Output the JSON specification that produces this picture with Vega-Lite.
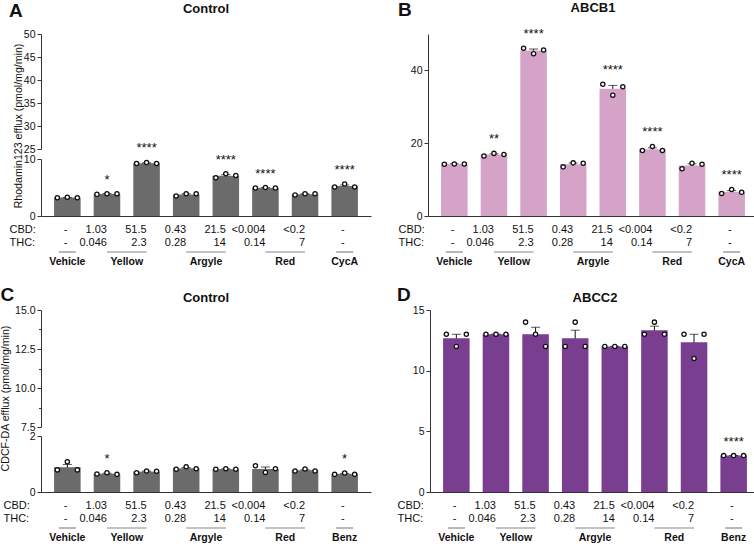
{
"$schema": "https://vega.github.io/schema/vega-lite/v6.json",
"padding": {"left": 0, "top": 1, "right": 0, "bottom": 0},
"config": {
  "font": "Liberation Sans",
  "view": {"stroke": null},
  "axis": {"domainColor": "#333", "tickColor": "#333", "labelColor": "#111", "labelFontSize": 10.5, "tickSize": 4, "labelPadding": 2, "titleFontSize": 10.6, "titleFontWeight": "normal", "titleColor": "#111", "titlePadding": 0, "grid": false, "domainWidth": 1, "tickWidth": 1, "labelOverlap": false},
  "title": {"fontSize": 13, "fontWeight": "bold", "color": "#111", "offset": 13, "anchor": "middle"}
},
"datasets": {
  "A": [
    {"bar":"Vehicle:-:-","rep":1,"v":3.2},{"bar":"Vehicle:-:-","rep":2,"v":3.3},{"bar":"Vehicle:-:-","rep":3,"v":3.2},
    {"bar":"Yellow:1.03:0.046","rep":1,"v":3.8},{"bar":"Yellow:1.03:0.046","rep":2,"v":3.9},{"bar":"Yellow:1.03:0.046","rep":3,"v":3.9},
    {"bar":"Yellow:51.5:2.3","rep":1,"v":9.2},{"bar":"Yellow:51.5:2.3","rep":2,"v":9.4},{"bar":"Yellow:51.5:2.3","rep":3,"v":9.2},
    {"bar":"Argyle:0.43:0.28","rep":1,"v":3.5},{"bar":"Argyle:0.43:0.28","rep":2,"v":3.9},{"bar":"Argyle:0.43:0.28","rep":3,"v":3.9},
    {"bar":"Argyle:21.5:14","rep":1,"v":6.7},{"bar":"Argyle:21.5:14","rep":2,"v":7.4},{"bar":"Argyle:21.5:14","rep":3,"v":7.1},
    {"bar":"Red:<0.004:0.14","rep":1,"v":4.9},{"bar":"Red:<0.004:0.14","rep":2,"v":5.0},{"bar":"Red:<0.004:0.14","rep":3,"v":4.9},
    {"bar":"Red:<0.2:7","rep":1,"v":3.7},{"bar":"Red:<0.2:7","rep":2,"v":3.9},{"bar":"Red:<0.2:7","rep":3,"v":3.9},
    {"bar":"CycA:-:-","rep":1,"v":5.1},{"bar":"CycA:-:-","rep":2,"v":5.6},{"bar":"CycA:-:-","rep":3,"v":5.1}
  ],
  "B": [
    {"bar":"Vehicle:-:-","rep":1,"v":14.2},{"bar":"Vehicle:-:-","rep":2,"v":14.3},{"bar":"Vehicle:-:-","rep":3,"v":14.3},
    {"bar":"Yellow:1.03:0.046","rep":1,"v":16.5},{"bar":"Yellow:1.03:0.046","rep":2,"v":17.2},{"bar":"Yellow:1.03:0.046","rep":3,"v":16.9},
    {"bar":"Yellow:51.5:2.3","rep":1,"v":46.1},{"bar":"Yellow:51.5:2.3","rep":2,"v":44.6},{"bar":"Yellow:51.5:2.3","rep":3,"v":45.6},
    {"bar":"Argyle:0.43:0.28","rep":1,"v":13.5},{"bar":"Argyle:0.43:0.28","rep":2,"v":14.6},{"bar":"Argyle:0.43:0.28","rep":3,"v":14.5},
    {"bar":"Argyle:21.5:14","rep":1,"v":36.2},{"bar":"Argyle:21.5:14","rep":2,"v":33.2},{"bar":"Argyle:21.5:14","rep":3,"v":35.5},
    {"bar":"Red:<0.004:0.14","rep":1,"v":18.0},{"bar":"Red:<0.004:0.14","rep":2,"v":19.1},{"bar":"Red:<0.004:0.14","rep":3,"v":18.0},
    {"bar":"Red:<0.2:7","rep":1,"v":13.0},{"bar":"Red:<0.2:7","rep":2,"v":14.5},{"bar":"Red:<0.2:7","rep":3,"v":14.2},
    {"bar":"CycA:-:-","rep":1,"v":6.2},{"bar":"CycA:-:-","rep":2,"v":7.3},{"bar":"CycA:-:-","rep":3,"v":6.5}
  ],
  "C": [
    {"bar":"Vehicle:-:-","rep":1,"v":0.79},{"bar":"Vehicle:-:-","rep":2,"v":1.08},{"bar":"Vehicle:-:-","rep":3,"v":0.79},
    {"bar":"Yellow:1.03:0.046","rep":1,"v":0.64},{"bar":"Yellow:1.03:0.046","rep":2,"v":0.69},{"bar":"Yellow:1.03:0.046","rep":3,"v":0.63},
    {"bar":"Yellow:51.5:2.3","rep":1,"v":0.69},{"bar":"Yellow:51.5:2.3","rep":2,"v":0.75},{"bar":"Yellow:51.5:2.3","rep":3,"v":0.74},
    {"bar":"Argyle:0.43:0.28","rep":1,"v":0.81},{"bar":"Argyle:0.43:0.28","rep":2,"v":0.90},{"bar":"Argyle:0.43:0.28","rep":3,"v":0.83},
    {"bar":"Argyle:21.5:14","rep":1,"v":0.81},{"bar":"Argyle:21.5:14","rep":2,"v":0.83},{"bar":"Argyle:21.5:14","rep":3,"v":0.81},
    {"bar":"Red:<0.004:0.14","rep":1,"v":0.94},{"bar":"Red:<0.004:0.14","rep":2,"v":0.70},{"bar":"Red:<0.004:0.14","rep":3,"v":0.83},
    {"bar":"Red:<0.2:7","rep":1,"v":0.75},{"bar":"Red:<0.2:7","rep":2,"v":0.82},{"bar":"Red:<0.2:7","rep":3,"v":0.75},
    {"bar":"Benz:-:-","rep":1,"v":0.63},{"bar":"Benz:-:-","rep":2,"v":0.68},{"bar":"Benz:-:-","rep":3,"v":0.63}
  ],
  "D": [
    {"bar":"Vehicle:-:-","rep":1,"v":13},{"bar":"Vehicle:-:-","rep":2,"v":12},{"bar":"Vehicle:-:-","rep":3,"v":13},
    {"bar":"Yellow:1.03:0.046","rep":1,"v":13},{"bar":"Yellow:1.03:0.046","rep":2,"v":13},{"bar":"Yellow:1.03:0.046","rep":3,"v":13},
    {"bar":"Yellow:51.5:2.3","rep":1,"v":14},{"bar":"Yellow:51.5:2.3","rep":2,"v":13},{"bar":"Yellow:51.5:2.3","rep":3,"v":12},
    {"bar":"Argyle:0.43:0.28","rep":1,"v":12},{"bar":"Argyle:0.43:0.28","rep":2,"v":14},{"bar":"Argyle:0.43:0.28","rep":3,"v":12},
    {"bar":"Argyle:21.5:14","rep":1,"v":12},{"bar":"Argyle:21.5:14","rep":2,"v":12},{"bar":"Argyle:21.5:14","rep":3,"v":12},
    {"bar":"Red:<0.004:0.14","rep":1,"v":13},{"bar":"Red:<0.004:0.14","rep":2,"v":14},{"bar":"Red:<0.004:0.14","rep":3,"v":13},
    {"bar":"Red:<0.2:7","rep":1,"v":13},{"bar":"Red:<0.2:7","rep":2,"v":11},{"bar":"Red:<0.2:7","rep":3,"v":13},
    {"bar":"Benz:-:-","rep":1,"v":3},{"bar":"Benz:-:-","rep":2,"v":3},{"bar":"Benz:-:-","rep":3,"v":3}
  ],
  "sigA": [{"bar":"Yellow:1.03:0.046","sig":"*"},{"bar":"Yellow:51.5:2.3","sig":"****"},{"bar":"Argyle:21.5:14","sig":"****"},{"bar":"Red:<0.004:0.14","sig":"****"},{"bar":"CycA:-:-","sig":"****"}],
  "sigB": [{"bar":"Yellow:1.03:0.046","sig":"**"},{"bar":"Yellow:51.5:2.3","sig":"****"},{"bar":"Argyle:21.5:14","sig":"****"},{"bar":"Red:<0.004:0.14","sig":"****"},{"bar":"CycA:-:-","sig":"****"}],
  "sigC": [{"bar":"Yellow:1.03:0.046","sig":"*"},{"bar":"Benz:-:-","sig":"*"}],
  "sigD": [{"bar":"Benz:-:-","sig":"****"}],
  "grpA": [{"g":"Vehicle","first":"Vehicle:-:-","last":"Vehicle:-:-","n":1},{"g":"Yellow","first":"Yellow:1.03:0.046","last":"Yellow:51.5:2.3","n":2},{"g":"Argyle","first":"Argyle:0.43:0.28","last":"Argyle:21.5:14","n":2},{"g":"Red","first":"Red:<0.004:0.14","last":"Red:<0.2:7","n":2},{"g":"CycA","first":"CycA:-:-","last":"CycA:-:-","n":1}],
  "grpC": [{"g":"Vehicle","first":"Vehicle:-:-","last":"Vehicle:-:-","n":1},{"g":"Yellow","first":"Yellow:1.03:0.046","last":"Yellow:51.5:2.3","n":2},{"g":"Argyle","first":"Argyle:0.43:0.28","last":"Argyle:21.5:14","n":2},{"g":"Red","first":"Red:<0.004:0.14","last":"Red:<0.2:7","n":2},{"g":"Benz","first":"Benz:-:-","last":"Benz:-:-","n":1}]
},
"spacing": 18,
"vconcat": [
 {"hconcat": [
  {"title": {"text": "A", "anchor": "start", "frame": "bounds", "fontSize": 19, "fontWeight": "bold", "offset": -21, "dy": 16, "baseline": "bottom"},
   "bounds": "flush", "spacing": 10,
   "vconcat": [
    {"width": 330, "height": 115, "title": {"text": "Control"},
     "data": {"name": "A"},
     "mark": {"type": "bar", "clip": true, "color": "#6b6b6b"},
     "encoding": {
       "x": {"field": "bar", "type": "nominal", "scale": {"domain": ["Vehicle:-:-","Yellow:1.03:0.046","Yellow:51.5:2.3","Argyle:0.43:0.28","Argyle:21.5:14","Red:<0.004:0.14","Red:<0.2:7","CycA:-:-"], "paddingInner": 0.33, "paddingOuter": 0.33}, "axis": null},
       "y": {"aggregate": "mean", "field": "v", "type": "quantitative", "scale": {"domain": [25, 50], "nice": false, "zero": false}, "axis": {"values": [25,30,35,40,45,50], "title": "Rhodamin123 efflux (pmol/mg/min)", "titleY": 91.5}}
     }},
    {"width": 330, "height": 57,
     "layer": [
      {"data": {"name": "A"}, "mark": {"type": "errorbar", "extent": "stderr", "ticks": {"size": 9}, "color": "#111", "thickness": 1},
       "encoding": {"x": {"field": "bar", "type": "nominal"}, "y": {"field": "v", "type": "quantitative", "title": null}}},
      {"data": {"name": "A"}, "mark": {"type": "bar", "color": "#6b6b6b"},
       "encoding": {
        "x": {"field": "bar", "type": "nominal", "scale": {"domain": ["Vehicle:-:-","Yellow:1.03:0.046","Yellow:51.5:2.3","Argyle:0.43:0.28","Argyle:21.5:14","Red:<0.004:0.14","Red:<0.2:7","CycA:-:-"], "paddingInner": 0.33, "paddingOuter": 0.33},
              "axis": {"labelExpr": "slice(split(datum.value, ':'), 1)", "labelAngle": 0, "labelOverlap": false, "labelFontSize": 11, "labelLineHeight": 13, "labelPadding": 7, "labelBaseline": "top", "ticks": false, "tickSize": 0, "title": ["CBD:", "THC:"], "titleX": -32, "titleY": 7, "titleAlign": "left", "titleAnchor": "start", "titleBaseline": "top", "titleFontSize": 11, "titleLineHeight": 13}},
        "y": {"aggregate": "mean", "field": "v", "type": "quantitative", "title": null, "scale": {"domain": [0, 10], "nice": false}, "axis": {"values": [0, 5, 10]}}
       }},
      {"data": {"name": "A"}, "transform": [{"filter": "datum.rep == 1"}], "mark": {"type": "circle", "xOffset": -10, "fill": "white", "stroke": "#111", "strokeWidth": 1.3, "size": 18, "opacity": 1},
       "encoding": {"x": {"field": "bar", "type": "nominal"}, "y": {"field": "v", "type": "quantitative", "title": null}}},
      {"data": {"name": "A"}, "transform": [{"filter": "datum.rep == 2"}], "mark": {"type": "circle", "fill": "white", "stroke": "#111", "strokeWidth": 1.3, "size": 18, "opacity": 1},
       "encoding": {"x": {"field": "bar", "type": "nominal"}, "y": {"field": "v", "type": "quantitative", "title": null}}},
      {"data": {"name": "A"}, "transform": [{"filter": "datum.rep == 3"}], "mark": {"type": "circle", "xOffset": 10, "fill": "white", "stroke": "#111", "strokeWidth": 1.3, "size": 18, "opacity": 1},
       "encoding": {"x": {"field": "bar", "type": "nominal"}, "y": {"field": "v", "type": "quantitative", "title": null}}},
      {"data": {"name": "A"}, "transform": [{"aggregate": [{"op": "max", "field": "v", "as": "top"}], "groupby": ["bar"]}, {"lookup": "bar", "from": {"data": {"name": "sigA"}, "key": "bar", "fields": ["sig"]}}, {"filter": "isValid(datum.sig)"}],
       "mark": {"type": "text", "dy": -14, "fontSize": 13, "color": "#111"},
       "encoding": {"x": {"field": "bar", "type": "nominal"}, "y": {"field": "top", "type": "quantitative", "title": null}, "text": {"field": "sig"}}},
      {"data": {"name": "grpA"}, "transform": [{"filter": "datum.n == 1"}], "mark": {"type": "rule", "yOffset": 36, "xOffset": -8.5, "x2Offset": 8.5, "color": "#888", "strokeWidth": 1.2},
       "encoding": {"x": {"field": "first", "type": "nominal"}, "x2": {"field": "last"}, "y": {"datum": 0}}},
      {"data": {"name": "grpA"}, "transform": [{"filter": "datum.n == 2"}], "mark": {"type": "rule", "yOffset": 36, "color": "#888", "strokeWidth": 1.2},
       "encoding": {"x": {"field": "first", "type": "nominal"}, "x2": {"field": "last"}, "y": {"datum": 0}}},
      {"data": {"name": "grpA"}, "transform": [{"filter": "datum.n == 1"}], "mark": {"type": "text", "dy": 46, "fontSize": 10.5, "fontWeight": "bold", "color": "#111"},
       "encoding": {"x": {"field": "first", "type": "nominal"}, "y": {"datum": 0}, "text": {"field": "g"}}},
      {"data": {"name": "grpA"}, "transform": [{"filter": "datum.n == 2"}], "mark": {"type": "text", "dy": 46, "dx": 19.8, "fontSize": 10.5, "fontWeight": "bold", "color": "#111"},
       "encoding": {"x": {"field": "first", "type": "nominal"}, "y": {"datum": 0}, "text": {"field": "g"}}}
     ]}
   ]},
  {"title": {"text": "B", "anchor": "start", "frame": "bounds", "fontSize": 19, "fontWeight": "bold", "offset": -21, "dy": 16, "baseline": "bottom"},
   "vconcat": [
    {"width": 330, "height": 182, "title": {"text": "ABCB1"},
     "layer": [
      {"data": {"name": "B"}, "mark": {"type": "errorbar", "extent": "stderr", "ticks": {"size": 9}, "color": "#111", "thickness": 1},
       "encoding": {"x": {"field": "bar", "type": "nominal"}, "y": {"field": "v", "type": "quantitative", "title": null}}},
      {"data": {"name": "B"}, "mark": {"type": "bar", "color": "#d5a3c8"},
       "encoding": {
        "x": {"field": "bar", "type": "nominal", "scale": {"domain": ["Vehicle:-:-","Yellow:1.03:0.046","Yellow:51.5:2.3","Argyle:0.43:0.28","Argyle:21.5:14","Red:<0.004:0.14","Red:<0.2:7","CycA:-:-"], "paddingInner": 0.33, "paddingOuter": 0.33},
              "axis": {"labelExpr": "slice(split(datum.value, ':'), 1)", "labelAngle": 0, "labelOverlap": false, "labelFontSize": 11, "labelLineHeight": 13, "labelPadding": 7, "labelBaseline": "top", "ticks": false, "tickSize": 0, "title": ["CBD:", "THC:"], "titleX": -30, "titleY": 7, "titleAlign": "left", "titleAnchor": "start", "titleBaseline": "top", "titleFontSize": 11, "titleLineHeight": 13}},
        "y": {"aggregate": "mean", "field": "v", "type": "quantitative", "scale": {"domain": [0, 50], "nice": false},
              "axis": {"values": [0,5,10,15,20,25,30,35,40,45,50], "labelExpr": "datum.value % 10 == 0 ? format(datum.value, 'd') : ''", "tickSize": {"condition": {"test": "datum.value % 10 == 0", "value": 4}, "value": 2.5}, "title": "Rhodamin123 efflux (pmol/mg/min)"}}
       }},
      {"data": {"name": "B"}, "transform": [{"filter": "datum.rep == 1"}], "mark": {"type": "circle", "xOffset": -10, "fill": "white", "stroke": "#111", "strokeWidth": 1.3, "size": 18, "opacity": 1},
       "encoding": {"x": {"field": "bar", "type": "nominal"}, "y": {"field": "v", "type": "quantitative", "title": null}}},
      {"data": {"name": "B"}, "transform": [{"filter": "datum.rep == 2"}], "mark": {"type": "circle", "fill": "white", "stroke": "#111", "strokeWidth": 1.3, "size": 18, "opacity": 1},
       "encoding": {"x": {"field": "bar", "type": "nominal"}, "y": {"field": "v", "type": "quantitative", "title": null}}},
      {"data": {"name": "B"}, "transform": [{"filter": "datum.rep == 3"}], "mark": {"type": "circle", "xOffset": 10, "fill": "white", "stroke": "#111", "strokeWidth": 1.3, "size": 18, "opacity": 1},
       "encoding": {"x": {"field": "bar", "type": "nominal"}, "y": {"field": "v", "type": "quantitative", "title": null}}},
      {"data": {"name": "B"}, "transform": [{"aggregate": [{"op": "max", "field": "v", "as": "top"}], "groupby": ["bar"]}, {"lookup": "bar", "from": {"data": {"name": "sigB"}, "key": "bar", "fields": ["sig"]}}, {"filter": "isValid(datum.sig)"}],
       "mark": {"type": "text", "dy": -14, "fontSize": 13, "color": "#111"},
       "encoding": {"x": {"field": "bar", "type": "nominal"}, "y": {"field": "top", "type": "quantitative", "title": null}, "text": {"field": "sig"}}},
      {"data": {"name": "grpA"}, "transform": [{"filter": "datum.n == 1"}], "mark": {"type": "rule", "yOffset": 36, "xOffset": -8.5, "x2Offset": 8.5, "color": "#888", "strokeWidth": 1.2},
       "encoding": {"x": {"field": "first", "type": "nominal"}, "x2": {"field": "last"}, "y": {"datum": 0}}},
      {"data": {"name": "grpA"}, "transform": [{"filter": "datum.n == 2"}], "mark": {"type": "rule", "yOffset": 36, "color": "#888", "strokeWidth": 1.2},
       "encoding": {"x": {"field": "first", "type": "nominal"}, "x2": {"field": "last"}, "y": {"datum": 0}}},
      {"data": {"name": "grpA"}, "transform": [{"filter": "datum.n == 1"}], "mark": {"type": "text", "dy": 46, "fontSize": 10.5, "fontWeight": "bold", "color": "#111"},
       "encoding": {"x": {"field": "first", "type": "nominal"}, "y": {"datum": 0}, "text": {"field": "g"}}},
      {"data": {"name": "grpA"}, "transform": [{"filter": "datum.n == 2"}], "mark": {"type": "text", "dy": 46, "dx": 19.8, "fontSize": 10.5, "fontWeight": "bold", "color": "#111"},
       "encoding": {"x": {"field": "first", "type": "nominal"}, "y": {"datum": 0}, "text": {"field": "g"}}}
     ]}
   ]}
 ], "spacing": 27},
 {"hconcat": [
  {"title": {"text": "C", "anchor": "start", "frame": "bounds", "fontSize": 19, "fontWeight": "bold", "offset": -21, "dy": 11, "baseline": "bottom"},
   "bounds": "flush", "spacing": 9,
   "vconcat": [
    {"width": 330, "height": 117, "title": {"text": "Control", "offset": 0},
     "data": {"name": "C"},
     "mark": {"type": "bar", "clip": true, "color": "#6b6b6b"},
     "encoding": {
       "x": {"field": "bar", "type": "nominal", "scale": {"domain": ["Vehicle:-:-","Yellow:1.03:0.046","Yellow:51.5:2.3","Argyle:0.43:0.28","Argyle:21.5:14","Red:<0.004:0.14","Red:<0.2:7","Benz:-:-"], "paddingInner": 0.33, "paddingOuter": 0.33}, "axis": null},
       "y": {"aggregate": "mean", "field": "v", "type": "quantitative", "scale": {"domain": [7.5, 15], "nice": false, "zero": false},
             "axis": {"values": [7.5,8.75,10,11.25,12.5,13.75,15], "labelExpr": "datum.value % 2.5 == 0 ? format(datum.value, '.1f') : ''", "tickSize": {"condition": {"test": "datum.value % 2.5 == 0", "value": 4}, "value": 2.5}, "title": "CDCF-DA efflux (pmol/mg/min)", "titleY": 88, "titlePadding": 4}}
     }},
    {"width": 330, "height": 56,
     "layer": [
      {"data": {"name": "C"}, "mark": {"type": "errorbar", "extent": "stderr", "ticks": {"size": 9}, "color": "#111", "thickness": 1},
       "encoding": {"x": {"field": "bar", "type": "nominal"}, "y": {"field": "v", "type": "quantitative", "title": null}}},
      {"data": {"name": "C"}, "mark": {"type": "bar", "color": "#6b6b6b"},
       "encoding": {
        "x": {"field": "bar", "type": "nominal", "scale": {"domain": ["Vehicle:-:-","Yellow:1.03:0.046","Yellow:51.5:2.3","Argyle:0.43:0.28","Argyle:21.5:14","Red:<0.004:0.14","Red:<0.2:7","Benz:-:-"], "paddingInner": 0.33, "paddingOuter": 0.33},
              "axis": {"labelExpr": "slice(split(datum.value, ':'), 1)", "labelAngle": 0, "labelOverlap": false, "labelFontSize": 11, "labelLineHeight": 13, "labelPadding": 7, "labelBaseline": "top", "ticks": false, "tickSize": 0, "title": ["CBD:", "THC:"], "titleX": -38, "titleY": 7, "titleAlign": "left", "titleAnchor": "start", "titleBaseline": "top", "titleFontSize": 11, "titleLineHeight": 13}},
        "y": {"aggregate": "mean", "field": "v", "type": "quantitative", "title": null, "scale": {"domain": [0, 2], "nice": false},
              "axis": {"values": [0,0.5,1,1.5,2], "labelExpr": "datum.value % 1 == 0 ? format(datum.value, 'd') : ''", "tickSize": {"condition": {"test": "datum.value % 1 == 0", "value": 4}, "value": 2.5}}}
       }},
      {"data": {"name": "C"}, "transform": [{"filter": "datum.rep == 1"}], "mark": {"type": "circle", "xOffset": -10, "fill": "white", "stroke": "#111", "strokeWidth": 1.3, "size": 18, "opacity": 1},
       "encoding": {"x": {"field": "bar", "type": "nominal"}, "y": {"field": "v", "type": "quantitative", "title": null}}},
      {"data": {"name": "C"}, "transform": [{"filter": "datum.rep == 2"}], "mark": {"type": "circle", "fill": "white", "stroke": "#111", "strokeWidth": 1.3, "size": 18, "opacity": 1},
       "encoding": {"x": {"field": "bar", "type": "nominal"}, "y": {"field": "v", "type": "quantitative", "title": null}}},
      {"data": {"name": "C"}, "transform": [{"filter": "datum.rep == 3"}], "mark": {"type": "circle", "xOffset": 10, "fill": "white", "stroke": "#111", "strokeWidth": 1.3, "size": 18, "opacity": 1},
       "encoding": {"x": {"field": "bar", "type": "nominal"}, "y": {"field": "v", "type": "quantitative", "title": null}}},
      {"data": {"name": "C"}, "transform": [{"aggregate": [{"op": "max", "field": "v", "as": "top"}], "groupby": ["bar"]}, {"lookup": "bar", "from": {"data": {"name": "sigC"}, "key": "bar", "fields": ["sig"]}}, {"filter": "isValid(datum.sig)"}],
       "mark": {"type": "text", "dy": -14, "fontSize": 13, "color": "#111"},
       "encoding": {"x": {"field": "bar", "type": "nominal"}, "y": {"field": "top", "type": "quantitative", "title": null}, "text": {"field": "sig"}}},
      {"data": {"name": "grpC"}, "transform": [{"filter": "datum.n == 1"}], "mark": {"type": "rule", "yOffset": 36, "xOffset": -8.5, "x2Offset": 8.5, "color": "#888", "strokeWidth": 1.2},
       "encoding": {"x": {"field": "first", "type": "nominal"}, "x2": {"field": "last"}, "y": {"datum": 0}}},
      {"data": {"name": "grpC"}, "transform": [{"filter": "datum.n == 2"}], "mark": {"type": "rule", "yOffset": 36, "color": "#888", "strokeWidth": 1.2},
       "encoding": {"x": {"field": "first", "type": "nominal"}, "x2": {"field": "last"}, "y": {"datum": 0}}},
      {"data": {"name": "grpC"}, "transform": [{"filter": "datum.n == 1"}], "mark": {"type": "text", "dy": 46, "fontSize": 10.5, "fontWeight": "bold", "color": "#111"},
       "encoding": {"x": {"field": "first", "type": "nominal"}, "y": {"datum": 0}, "text": {"field": "g"}}},
      {"data": {"name": "grpC"}, "transform": [{"filter": "datum.n == 2"}], "mark": {"type": "text", "dy": 46, "dx": 19.8, "fontSize": 10.5, "fontWeight": "bold", "color": "#111"},
       "encoding": {"x": {"field": "first", "type": "nominal"}, "y": {"datum": 0}, "text": {"field": "g"}}}
     ]}
   ]},
  {"title": {"text": "D", "anchor": "start", "frame": "bounds", "fontSize": 19, "fontWeight": "bold", "offset": -21, "dy": 11, "baseline": "bottom"},
   "vconcat": [
    {"width": 330, "height": 182, "title": {"text": "ABCC2", "offset": 0},
     "layer": [
      {"data": {"name": "D"}, "mark": {"type": "errorbar", "extent": "stderr", "ticks": {"size": 9}, "color": "#111", "thickness": 1},
       "encoding": {"x": {"field": "bar", "type": "nominal"}, "y": {"field": "v", "type": "quantitative", "title": null}}},
      {"data": {"name": "D"}, "mark": {"type": "bar", "color": "#793e8f"},
       "encoding": {
        "x": {"field": "bar", "type": "nominal", "scale": {"domain": ["Vehicle:-:-","Yellow:1.03:0.046","Yellow:51.5:2.3","Argyle:0.43:0.28","Argyle:21.5:14","Red:<0.004:0.14","Red:<0.2:7","Benz:-:-"], "paddingInner": 0.33, "paddingOuter": 0.33},
              "axis": {"labelExpr": "slice(split(datum.value, ':'), 1)", "labelAngle": 0, "labelOverlap": false, "labelFontSize": 11, "labelLineHeight": 13, "labelPadding": 7, "labelBaseline": "top", "ticks": false, "tickSize": 0, "title": ["CBD:", "THC:"], "titleX": -33, "titleY": 7, "titleAlign": "left", "titleAnchor": "start", "titleBaseline": "top", "titleFontSize": 11, "titleLineHeight": 13}},
        "y": {"aggregate": "mean", "field": "v", "type": "quantitative", "scale": {"domain": [0, 15], "nice": false},
              "axis": {"values": [0,2.5,5,7.5,10,12.5,15], "labelExpr": "datum.value % 5 == 0 ? format(datum.value, 'd') : ''", "tickSize": {"condition": {"test": "datum.value % 5 == 0", "value": 4}, "value": 2.5}, "title": "CDCF-DA efflux (pmol/mg/min)"}}
       }},
      {"data": {"name": "D"}, "transform": [{"filter": "datum.rep == 1"}], "mark": {"type": "circle", "xOffset": -10, "fill": "white", "stroke": "#111", "strokeWidth": 1.3, "size": 18, "opacity": 1},
       "encoding": {"x": {"field": "bar", "type": "nominal"}, "y": {"field": "v", "type": "quantitative", "title": null}}},
      {"data": {"name": "D"}, "transform": [{"filter": "datum.rep == 2"}], "mark": {"type": "circle", "fill": "white", "stroke": "#111", "strokeWidth": 1.3, "size": 18, "opacity": 1},
       "encoding": {"x": {"field": "bar", "type": "nominal"}, "y": {"field": "v", "type": "quantitative", "title": null}}},
      {"data": {"name": "D"}, "transform": [{"filter": "datum.rep == 3"}], "mark": {"type": "circle", "xOffset": 10, "fill": "white", "stroke": "#111", "strokeWidth": 1.3, "size": 18, "opacity": 1},
       "encoding": {"x": {"field": "bar", "type": "nominal"}, "y": {"field": "v", "type": "quantitative", "title": null}}},
      {"data": {"name": "D"}, "transform": [{"aggregate": [{"op": "max", "field": "v", "as": "top"}], "groupby": ["bar"]}, {"lookup": "bar", "from": {"data": {"name": "sigD"}, "key": "bar", "fields": ["sig"]}}, {"filter": "isValid(datum.sig)"}],
       "mark": {"type": "text", "dy": -14, "fontSize": 13, "color": "#111"},
       "encoding": {"x": {"field": "bar", "type": "nominal"}, "y": {"field": "top", "type": "quantitative", "title": null}, "text": {"field": "sig"}}},
      {"data": {"name": "grpC"}, "transform": [{"filter": "datum.n == 1"}], "mark": {"type": "rule", "yOffset": 36, "xOffset": -8.5, "x2Offset": 8.5, "color": "#888", "strokeWidth": 1.2},
       "encoding": {"x": {"field": "first", "type": "nominal"}, "x2": {"field": "last"}, "y": {"datum": 0}}},
      {"data": {"name": "grpC"}, "transform": [{"filter": "datum.n == 2"}], "mark": {"type": "rule", "yOffset": 36, "color": "#888", "strokeWidth": 1.2},
       "encoding": {"x": {"field": "first", "type": "nominal"}, "x2": {"field": "last"}, "y": {"datum": 0}}},
      {"data": {"name": "grpC"}, "transform": [{"filter": "datum.n == 1"}], "mark": {"type": "text", "dy": 46, "fontSize": 10.5, "fontWeight": "bold", "color": "#111"},
       "encoding": {"x": {"field": "first", "type": "nominal"}, "y": {"datum": 0}, "text": {"field": "g"}}},
      {"data": {"name": "grpC"}, "transform": [{"filter": "datum.n == 2"}], "mark": {"type": "text", "dy": 46, "dx": 19.8, "fontSize": 10.5, "fontWeight": "bold", "color": "#111"},
       "encoding": {"x": {"field": "first", "type": "nominal"}, "y": {"datum": 0}, "text": {"field": "g"}}}
     ]}
   ]}
 ], "spacing": 26}
]
}
